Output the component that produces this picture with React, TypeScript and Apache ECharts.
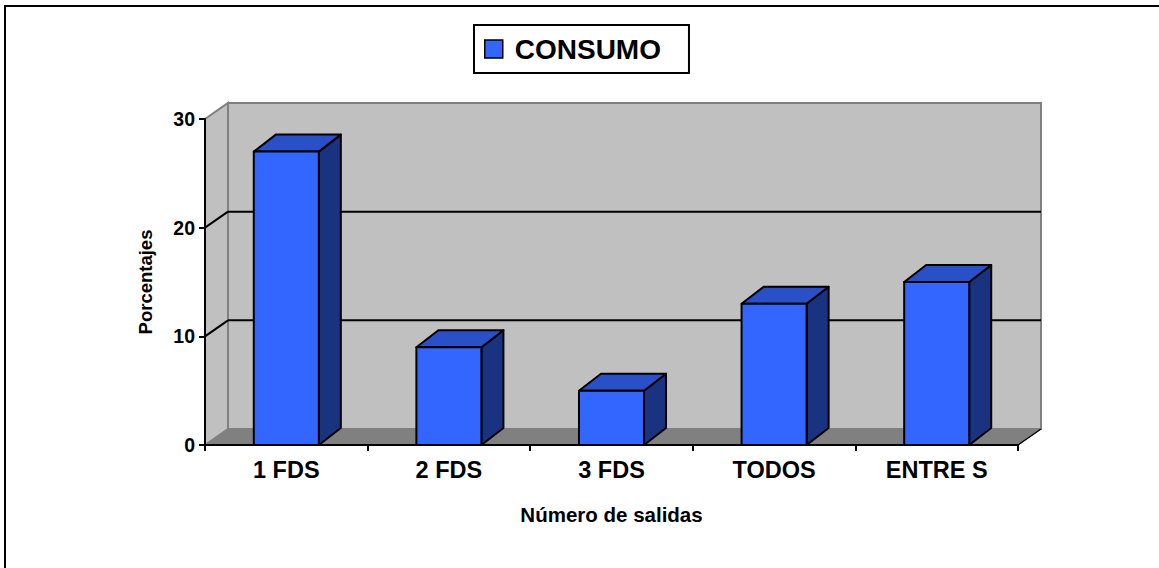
import React, { useEffect, useRef } from "react";
import * as echarts from "echarts";

const categories = ["1 FDS", "2 FDS", "3 FDS", "TODOS", "ENTRE S"];
const consumo = [27, 9, 5, 13, 15];
const yTicks = [0, 10, 20, 30];
const seriesName = "CONSUMO";
const xTitle = "Número de salidas";
const yTitle = "Porcentajes";

const FONT = "Arial, 'Liberation Sans', sans-serif";
const DX = 23;
const DY = -16;
const BDX = 22;
const BDY = -17;

export default function App() {
  const ref = useRef<HTMLDivElement>(null);
  useEffect(() => {
    if (!ref.current) return;
    const chart = echarts.init(ref.current, undefined, { renderer: "svg" });

    const wallsRender = (params: any, api: any) => {
      const cs = params.coordSys;
      const x0 = cs.x;
      const x1 = cs.x + cs.width;
      const yTop = cs.y;
      const yBot = cs.y + cs.height;
      const children: any[] = [];
      children.push({
        type: "rect",
        shape: { x: x0 + DX, y: yTop + DY, width: cs.width, height: cs.height },
        style: { fill: "#c0c0c0", stroke: "#808080", lineWidth: 2 },
      });
      children.push({
        type: "polygon",
        shape: {
          points: [
            [x0, yBot],
            [x0, yTop],
            [x0 + DX, yTop + DY],
            [x0 + DX, yBot + DY],
          ],
        },
        style: { fill: "#c0c0c0", stroke: "#808080", lineWidth: 2 },
      });
      children.push({
        type: "polygon",
        shape: {
          points: [
            [x0, yBot],
            [x0 + DX, yBot + DY],
            [x1 + DX, yBot + DY],
            [x1, yBot],
          ],
        },
        style: { fill: "#808080", stroke: "#808080", lineWidth: 1 },
      });
      children.push({
        type: "line",
        shape: { x1: x1, y1: yBot, x2: x1 + DX, y2: yBot + DY },
        style: { stroke: "#000", lineWidth: 1.5 },
      });
      yTicks.forEach((t) => {
        if (t === 0 || t === yTicks[yTicks.length - 1]) return;
        const yf = api.coord([0, t])[1];
        children.push({
          type: "line",
          shape: { x1: x0, y1: yf, x2: x0 + DX, y2: yf + DY },
          style: { stroke: "#000", lineWidth: 2 },
        });
        children.push({
          type: "line",
          shape: { x1: x0 + DX, y1: yf + DY, x2: x1 + DX, y2: yf + DY },
          style: { stroke: "#000", lineWidth: 2 },
        });
      });
      return { type: "group", children };
    };

    const barRender = (params: any, api: any) => {
      const idx = api.value(0);
      const v = api.value(1);
      const base = api.coord([idx, 0]);
      const top = api.coord([idx, v]);
      const bw = api.size([1, 0])[0] * 0.4;
      const l = base[0] - bw / 2;
      const r = base[0] + bw / 2;
      const yb = base[1];
      const yt = top[1];
      const stroke = { stroke: "#000", lineWidth: 2, lineJoin: "round" };
      return {
        type: "group",
        children: [
          {
            type: "polygon",
            shape: {
              points: [
                [r, yt],
                [r + BDX, yt + BDY],
                [r + BDX, yb + BDY],
                [r, yb],
              ],
            },
            style: { fill: "#1a3380", ...stroke },
          },
          {
            type: "polygon",
            shape: {
              points: [
                [l, yt],
                [l + BDX, yt + BDY],
                [r + BDX, yt + BDY],
                [r, yt],
              ],
            },
            style: { fill: "#2a50c8", ...stroke },
          },
          {
            type: "rect",
            shape: { x: l, y: yt, width: bw, height: yb - yt },
            style: { fill: "#3366ff", ...stroke },
          },
        ],
      };
    };

    chart.setOption({
      animation: false,
      backgroundColor: "#ffffff",
      textStyle: { fontFamily: FONT },
      graphic: [
        {
          type: "rect",
          shape: { x: 5, y: 6, width: 1300, height: 700 },
          style: { fill: "none", stroke: "#000", lineWidth: 2 },
          z: 100,
        },
      ],
      legend: {
        left: 474,
        top: 25,
        data: [
          {
            name: seriesName,
            icon: "rect",
            itemStyle: { color: "#3366ff", borderColor: "#000", borderWidth: 1.5 },
          },
        ],
        itemWidth: 18,
        itemHeight: 18,
        borderColor: "#000",
        borderWidth: 2,
        borderRadius: 0,
        padding: [10, 28, 10, 10],
        backgroundColor: "#fff",
        textStyle: {
          fontSize: 28,
          fontWeight: "bold",
          color: "#000",
          fontFamily: FONT,
          padding: [0, 0, 0, 7],
        },
      },
      grid: { left: 205, top: 119, width: 813, height: 326 },
      xAxis: {
        type: "category",
        data: categories,
        z: 10,
        axisLine: { lineStyle: { color: "#000", width: 2 } },
        axisTick: { show: true, length: 6, alignWithLabel: false, lineStyle: { color: "#000", width: 2 } },
        axisLabel: { fontSize: 23.5, fontWeight: "bold", color: "#000", margin: 13, fontFamily: FONT },
        name: xTitle,
        nameLocation: "middle",
        nameGap: 59,
        nameTextStyle: { fontSize: 20.5, fontWeight: "bold", color: "#000", fontFamily: FONT },
        splitLine: { show: false },
      },
      yAxis: {
        type: "value",
        min: 0,
        max: 30,
        interval: 10,
        z: 10,
        axisLine: { show: true, lineStyle: { color: "#000", width: 2 } },
        axisTick: { show: true, length: 6, lineStyle: { color: "#000", width: 2 } },
        axisLabel: { fontSize: 19.5, fontWeight: "bold", color: "#000", margin: 10, fontFamily: FONT },
        splitLine: { show: false },
        name: yTitle,
        nameLocation: "middle",
        nameGap: 50,
        nameTextStyle: { fontSize: 18.5, fontWeight: "bold", color: "#000", fontFamily: FONT },
      },
      series: [
        {
          type: "custom",
          name: "walls",
          renderItem: wallsRender,
          data: [[0, 0]],
          encode: { x: 0, y: 1 },
          z: 1,
          silent: true,
        },
        {
          type: "custom",
          name: seriesName,
          renderItem: barRender,
          data: consumo.map((v, i) => [i, v]),
          encode: { x: 0, y: 1 },
          itemStyle: { color: "#3366ff" },
          z: 3,
        },
      ],
    });
    return () => chart.dispose();
  }, []);
  return (
    <div
      ref={ref}
      style={{ position: "absolute", left: 0, top: 0, width: 1159, height: 568 }}
    />
  );
}
